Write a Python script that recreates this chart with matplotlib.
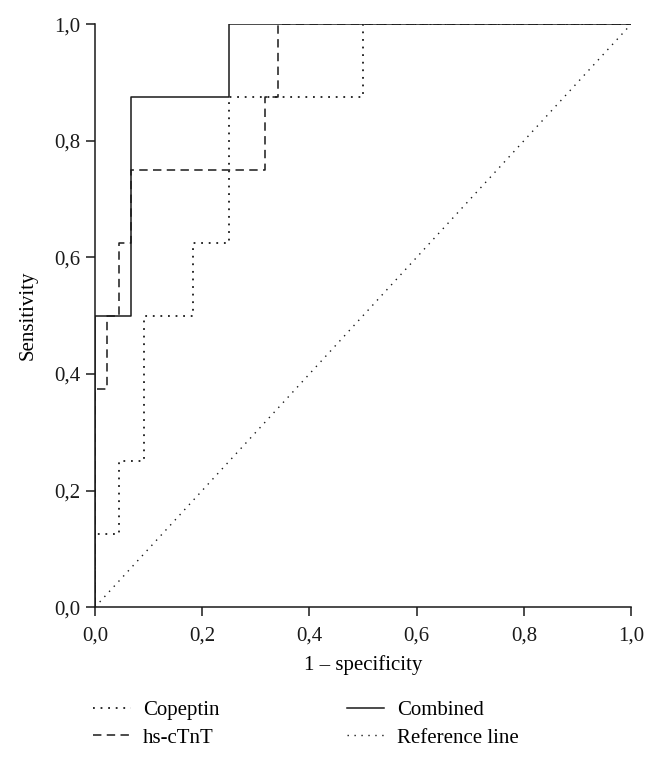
"""
ROC curves: Copeptin, hs-cTnT and the combined model.
"""

import matplotlib
matplotlib.use("Agg")
import matplotlib.pyplot as plt
from matplotlib.ticker import FuncFormatter

# ==========================================
# DATA (ROC curve vertices)
# ==========================================
copeptin_fpr = [0.0, 0.0, 0.045, 0.045, 0.091, 0.091, 0.182, 0.182, 0.25, 0.25, 0.5, 0.5, 1.0]
copeptin_tpr = [0.0, 0.125, 0.125, 0.25, 0.25, 0.5, 0.5, 0.625, 0.625, 0.875, 0.875, 1.0, 1.0]

hsctnt_fpr = [0.0, 0.0, 0.022, 0.022, 0.045, 0.045, 0.068, 0.068, 0.318, 0.318, 0.341, 0.341, 1.0]
hsctnt_tpr = [0.0, 0.375, 0.375, 0.5, 0.5, 0.625, 0.625, 0.75, 0.75, 0.875, 0.875, 1.0, 1.0]

combined_fpr = [0.0, 0.0, 0.068, 0.068, 0.25, 0.25, 1.0]
combined_tpr = [0.0, 0.5, 0.5, 0.875, 0.875, 1.0, 1.0]

reference_x = [0.0, 1.0]
reference_y = [0.0, 1.0]

ticks = [0.0, 0.2, 0.4, 0.6, 0.8, 1.0]

# ==========================================
# STYLE
# ==========================================
FS = 15
plt.rcParams['font.family'] = ['Liberation Serif', 'DejaVu Serif']
plt.rcParams['font.size'] = FS

fig = plt.figure(figsize=(6.61, 7.57), dpi=100)
ax = fig.add_axes([0.1437, 0.198, 0.811, 0.770])

lc = '#1a1a1a'
l_cop, = ax.plot(copeptin_fpr, copeptin_tpr, color=lc, lw=1.3,
                 linestyle=(0, (1.0, 3.2)), label='Copeptin')
l_hs, = ax.plot(hsctnt_fpr, hsctnt_tpr, color=lc, lw=1.1,
                linestyle=(0, (5.5, 3.5)), label='hs-cTnT')
l_comb, = ax.plot(combined_fpr, combined_tpr, color=lc, lw=1.1,
                  linestyle='-', label='Combined')
l_ref, = ax.plot(reference_x, reference_y, color=lc, lw=1.0,
                 linestyle=(0, (1.0, 4.0)), label='Reference line')

ax.set_xlim(0, 1)
ax.set_ylim(0, 1)
ax.set_xticks(ticks)
ax.set_yticks(ticks)
comma = FuncFormatter(lambda v, p: f"{v:.1f}".replace('.', ','))
ax.xaxis.set_major_formatter(comma)
ax.yaxis.set_major_formatter(comma)
ax.tick_params(direction='out', length=6.5, width=1.1, colors=lc, labelsize=FS)
ax.tick_params(axis='x', pad=7.5)
ax.tick_params(axis='y', pad=4)

for side in ['top', 'right']:
    ax.spines[side].set_visible(False)
for side in ['left', 'bottom']:
    ax.spines[side].set_linewidth(1.1)
    ax.spines[side].set_color(lc)

ax.set_xlabel('1 – specificity', fontsize=FS, labelpad=7)
ax.set_ylabel('Sensitivity', fontsize=FS, labelpad=12)

fig.legend(handles=[l_cop, l_hs, l_comb, l_ref], ncol=2, frameon=False,
           loc='upper left', bbox_to_anchor=(0.141, 0.075), fontsize=FS,
           handlelength=1.8, handletextpad=0.6, columnspacing=6.1,
           labelspacing=0.4, borderaxespad=0, borderpad=0)

fig.savefig('out.png', dpi=100)
